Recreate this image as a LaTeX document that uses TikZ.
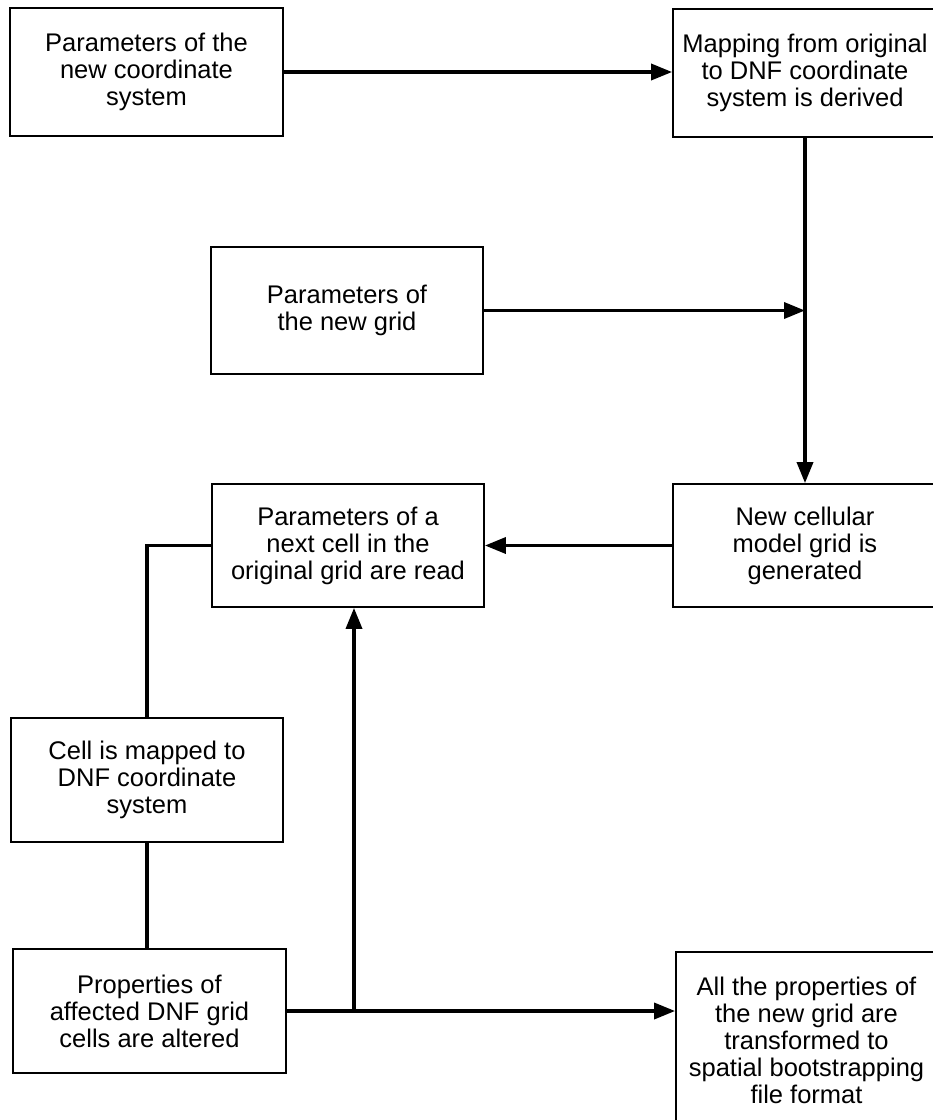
\documentclass[tikz,border=0pt]{standalone}
\usepackage{fontspec}
\setmainfont{Liberation Sans}
\usetikzlibrary{arrows.meta}
\begin{document}
\begin{tikzpicture}[x=1bp,y=-1bp,
  box/.style={draw, line width=1.8bp, rectangle, inner sep=0pt, align=center,
    font=\fontsize{25.5bp}{27bp}\selectfont},
  link/.style={line width=3.5bp},
  arr/.style={link, -{Triangle[length=21bp,width=16bp]}}]
\useasboundingbox (0,0) rectangle (933,1120);

% process boxes
\node[box, minimum width=273bp, minimum height=128bp] (b1) at (146.5,72)
  {Parameters of the\\new coordinate\\system};
\node[box, minimum width=264bp, minimum height=128bp] (b2) at (805,73)
  {Mapping from original\\to DNF coordinate\\system is derived};
\node[box, minimum width=272bp, minimum height=127bp] (b3) at (347,310.5)
  {Parameters of\\the new grid};
\node[box, minimum width=264bp, minimum height=123bp] (b4) at (805,545.5)
  {New cellular\\model grid is\\generated};
\node[box, minimum width=272bp, minimum height=123bp] (b5) at (348,545.5)
  {Parameters of a\\next cell in the\\original grid are read};
\node[box, minimum width=272bp, minimum height=124bp] (b6) at (147,780)
  {Cell is mapped to\\DNF coordinate\\system};
\node[box, minimum width=273bp, minimum height=124bp] (b7) at (149.5,1011)
  {Properties of\\affected DNF grid\\cells are altered};
\node[box, minimum width=261bp, minimum height=176bp] (b8) at (806.5,1040)
  {All the properties of\\the new grid are\\transformed to\\spatial bootstrapping\\file format};

% junction points on the connectors
\coordinate (j1) at (b3.east -| b2.south);
\coordinate (j2) at (354,1011);

% connectors
\draw[arr] (b1.east) -- (b1.east -| b2.west);
\draw[link] (b2.south) -- (j1);
\draw[arr] (j1) -- (b4.north);
\draw[arr] (b3.east) -- (j1);
\draw[arr] (b4.west) -- (b5.east);
\draw[link] (b5.west) -| (b6.north);
\draw[link] (b6.south) -- (b6.south |- b7.north);
\draw[arr] (b7.east) -- (b7.east -| b8.west);
\draw[arr] (j2) -- (j2 |- b5.south);
\end{tikzpicture}
\end{document}
